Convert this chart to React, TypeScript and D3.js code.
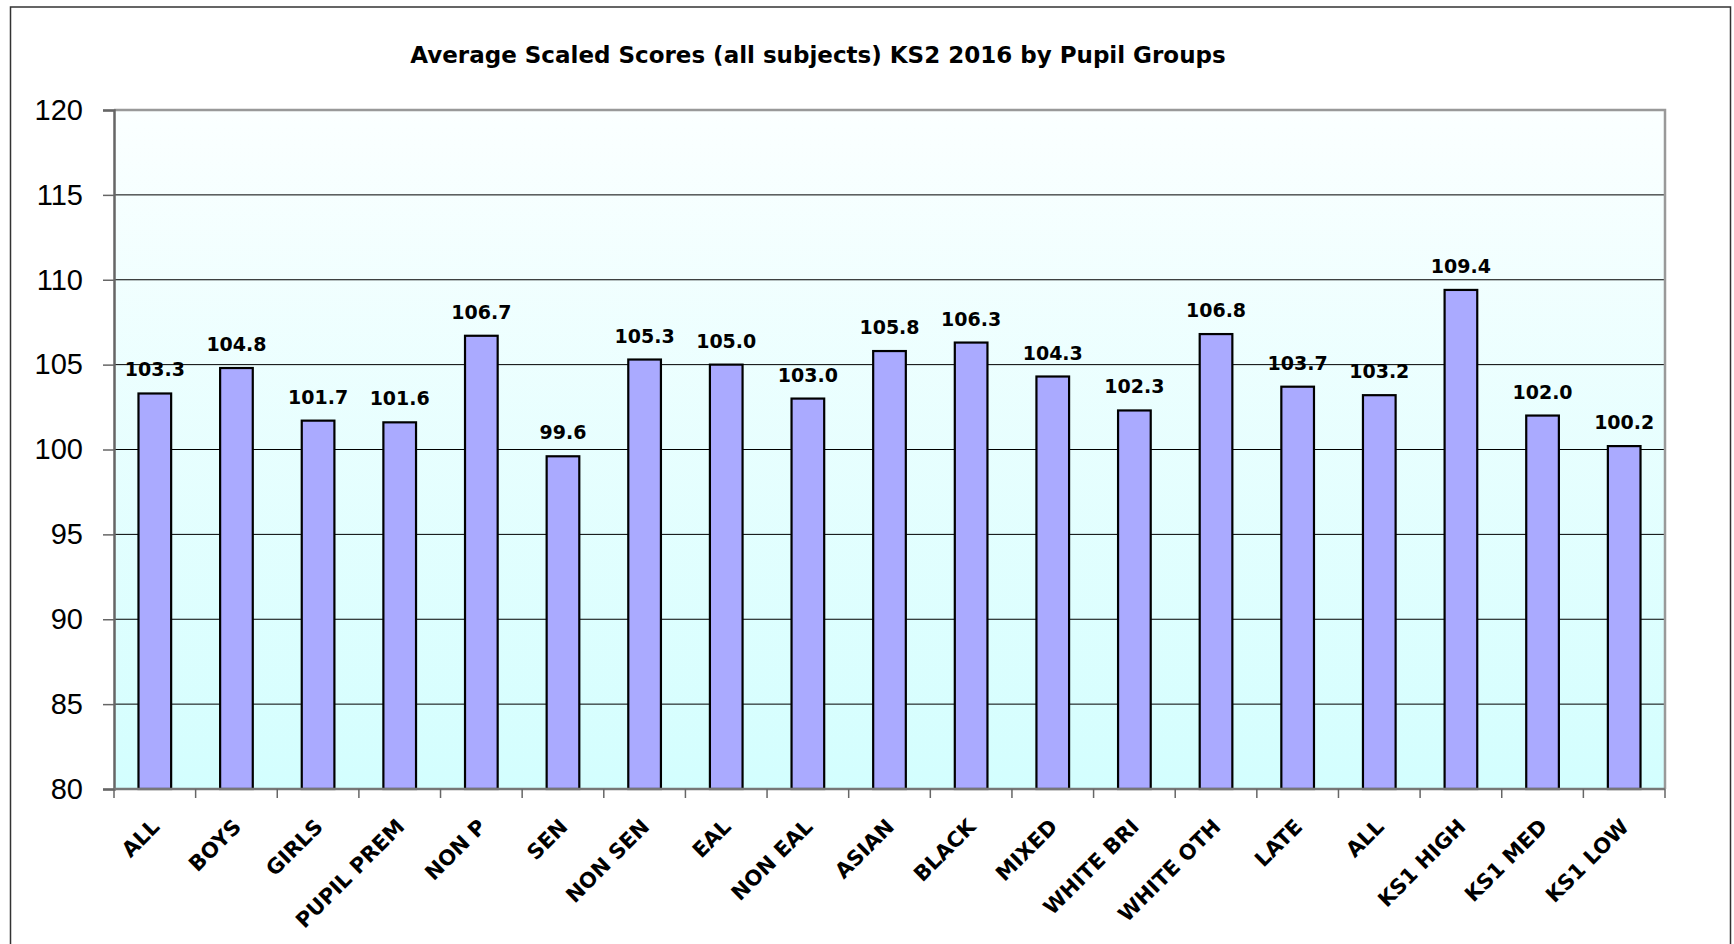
import { useEffect, useRef } from "react";
import * as d3 from "d3";

const groups = [
  "ALL", "BOYS", "GIRLS", "PUPIL PREM", "NON P", "SEN", "NON SEN", "EAL",
  "NON EAL", "ASIAN", "BLACK", "MIXED", "WHITE BRI", "WHITE OTH", "LATE",
  "ALL", "KS1 HIGH", "KS1 MED", "KS1 LOW",
];
const scores = [
  103.3, 104.8, 101.7, 101.6, 106.7, 99.6, 105.3, 105.0, 103.0, 105.8,
  106.3, 104.3, 102.3, 106.8, 103.7, 103.2, 109.4, 102.0, 100.2,
];
const yTicks = [80, 85, 90, 95, 100, 105, 110, 115, 120];
const title = "Average Scaled Scores (all subjects) KS2 2016 by Pupil Groups";

const comic = "'Comic Sans MS', 'DejaVu Sans', sans-serif";

const App = () => {
  const svgRef = useRef<SVGSVGElement | null>(null);

  useEffect(() => {
    const svg = d3.select(svgRef.current);
    svg.selectAll("*").remove();

    const width = 1734;
    const height = 944;
    const plot = { left: 114, right: 1665, top: 110, bottom: 789 };

    // outer chart frame (bottom edge runs off the page)
    svg
      .append("rect")
      .attr("x", 10.5)
      .attr("y", 7)
      .attr("width", 1720)
      .attr("height", height + 20)
      .attr("fill", "#fff")
      .attr("stroke", "#333")
      .attr("stroke-width", 1.5);

    const defs = svg.append("defs");
    const grad = defs
      .append("linearGradient")
      .attr("id", "bg")
      .attr("x1", 0)
      .attr("y1", 0)
      .attr("x2", 0)
      .attr("y2", 1);
    grad.append("stop").attr("offset", "0%").attr("stop-color", "#fbffff");
    grad.append("stop").attr("offset", "100%").attr("stop-color", "#d3fefe");

    const x = d3
      .scaleBand<number>()
      .domain(d3.range(groups.length))
      .range([plot.left, plot.right])
      .paddingInner(0.6)
      .paddingOuter(0.3);
    const y = d3
      .scaleLinear()
      .domain([80, 120])
      .range([plot.bottom, plot.top]);

    svg
      .append("rect")
      .attr("x", plot.left)
      .attr("y", plot.top)
      .attr("width", plot.right - plot.left)
      .attr("height", plot.bottom - plot.top)
      .attr("fill", "url(#bg)");

    // gridlines
    svg
      .append("g")
      .selectAll("line")
      .data(yTicks.filter((t) => t > 80 && t < 120))
      .join("line")
      .attr("x1", plot.left)
      .attr("x2", plot.right)
      .attr("y1", (d) => y(d))
      .attr("y2", (d) => y(d))
      .attr("stroke", "#000")
      .attr("stroke-width", 1);

    // top and right plot border
    svg
      .append("path")
      .attr("d", `M${plot.left},${plot.top}H${plot.right}V${plot.bottom}`)
      .attr("fill", "none")
      .attr("stroke", "#999")
      .attr("stroke-width", 2.5);

    // bars
    svg
      .append("g")
      .selectAll("rect")
      .data(scores)
      .join("rect")
      .attr("x", (_, i) => x(i)!)
      .attr("y", (d) => y(d))
      .attr("width", x.bandwidth())
      .attr("height", (d) => y(80) - y(d))
      .attr("fill", "#aaaaff")
      .attr("stroke", "#000")
      .attr("stroke-width", 2.2);

    // value labels
    svg
      .append("g")
      .selectAll("text")
      .data(scores)
      .join("text")
      .attr("x", (_, i) => x(i)! + x.bandwidth() / 2)
      .attr("y", (d) => y(d) - 17)
      .attr("text-anchor", "middle")
      .attr("font-family", comic)
      .attr("font-weight", "bold")
      .attr("font-size", 19)
      .attr("fill", "#000")
      .text((d) => d.toFixed(1));

    // y axis
    const yAxis = d3
      .axisLeft(y)
      .tickValues(yTicks)
      .tickSize(11)
      .tickPadding(20)
      .tickFormat((d) => `${d}`);
    const yg = svg
      .append("g")
      .attr("transform", `translate(${plot.left},0)`)
      .call(yAxis);
    yg.select(".domain").attr("stroke", "#666").attr("stroke-width", 2.5);
    yg.selectAll(".tick line").attr("stroke", "#666").attr("stroke-width", 1.5);
    yg.selectAll(".tick text")
      .attr("font-family", "'Liberation Sans', Arial, sans-serif")
      .attr("font-size", 29)
      .attr("fill", "#000");

    // x axis: ticks at category boundaries
    const step = x.step();
    const xg = svg.append("g");
    xg.append("line")
      .attr("x1", plot.left)
      .attr("x2", plot.right)
      .attr("y1", plot.bottom)
      .attr("y2", plot.bottom)
      .attr("stroke", "#777")
      .attr("stroke-width", 2.5);
    xg.selectAll("line.tk")
      .data(d3.range(groups.length + 1))
      .join("line")
      .attr("class", "tk")
      .attr("x1", (i) => plot.left + i * step)
      .attr("x2", (i) => plot.left + i * step)
      .attr("y1", plot.bottom)
      .attr("y2", plot.bottom + 9)
      .attr("stroke", "#666")
      .attr("stroke-width", 1.5);

    xg.selectAll("text")
      .data(groups)
      .join("text")
      .attr(
        "transform",
        (_, i) =>
          `translate(${x(i)! + x.bandwidth() / 2 + 6},${plot.bottom + 39}) rotate(-45)`
      )
      .attr("text-anchor", "end")
      .attr("font-family", comic)
      .attr("font-weight", "bold")
      .attr("font-size", 21)
      .attr("fill", "#000")
      .text((d) => d);

    // title
    svg
      .append("text")
      .attr("x", 818)
      .attr("y", 63)
      .attr("text-anchor", "middle")
      .attr("font-family", comic)
      .attr("font-weight", "bold")
      .attr("font-size", 23)
      .attr("fill", "#000")
      .text(title);

    svg.attr("viewBox", `0 0 ${width} ${height}`);
  }, []);

  return (
    <svg
      ref={svgRef}
      role="img"
      aria-label="Average scaled scores chart"
      width={1734}
      height={944}
      style={{ position: "absolute", left: 0, top: 0 }}
    />
  );
};

export default App;
